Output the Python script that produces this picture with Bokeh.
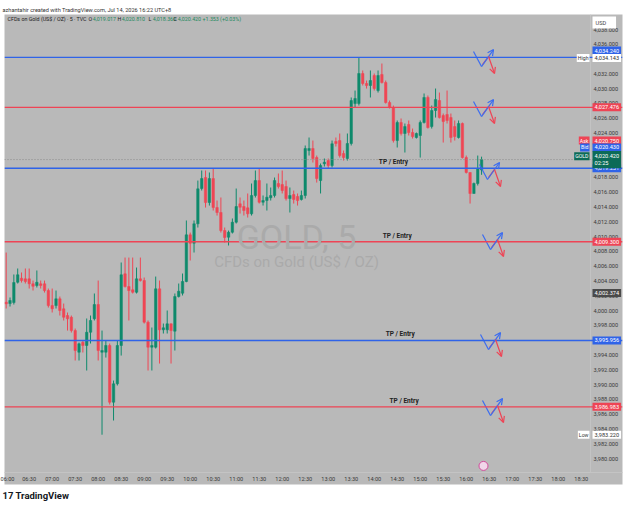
from bokeh.plotting import figure
from bokeh.models import (Label, Span, FixedTicker, NumeralTickFormatter, Range1d,
                          Arrow, OpenHead, ColumnDataSource, Title)
from bokeh.embed import file_html
from bokeh.resources import INLINE

# ---------------- data (5-minute candles, minutes after 06:00) ----------------
times = [5 * i for i in range(125)]
opens = [4001.13, 4000.95, 4001.09, 4003.83, 4004.37, 4004.29, 4004.29, 4003.62, 4003.39, 4003.62,
         4003.62, 4002.71, 4000.68, 4000.68, 4001.59, 4000.24, 3999.33, 3999.10, 3997.30, 3994.37,
         3995.72, 3995.28, 3997.07, 3998.89, 4000.82, 3994.37, 3994.37, 3995.28, 3987.61, 3990.10,
         3995.28, 4004.97, 4003.25, 4002.81, 4002.48, 4004.29, 4004.06, 3998.43, 3995.05, 3995.05,
         4002.94, 3997.40, 3997.40, 3998.21, 3997.21, 4001.90, 4002.35, 4003.93, 4010.24, 4009.11,
         4011.73, 4016.50, 4017.99, 4014.61, 4017.85, 4013.93, 4013.26, 4010.82, 4009.92, 4010.59,
         4011.95, 4014.43, 4014.07, 4013.89, 4013.08, 4015.56, 4017.58, 4014.65, 4014.88, 4015.25,
         4015.56, 4017.18, 4017.04, 4016.77, 4015.15, 4015.69, 4015.42, 4015.02, 4015.56, 4021.64,
         4021.91, 4020.69, 4017.58, 4019.84, 4020.29, 4019.61, 4022.86, 4022.99, 4021.23, 4020.56,
         4022.59, 4027.99, 4027.99, 4032.05, 4030.70, 4030.43, 4031.78, 4029.75, 4031.92, 4030.83,
         4028.13, 4027.45, 4022.99, 4025.43, 4023.94, 4025.16, 4024.07, 4023.40, 4023.67, 4025.43,
         4028.81, 4024.88, 4027.05, 4028.40, 4026.37, 4026.51, 4026.10, 4024.88, 4023.40, 4025.29,
         4020.69, 4018.67, 4015.83, 4017.18, 4019.017]
highs = [4007.85, 4001.77, 4004.88, 4005.69, 4005.15, 4005.69, 4005.69, 4004.06, 4005.42, 4004.06,
         4004.06, 4002.98, 4002.98, 4002.71, 4001.90, 4000.95, 3999.74, 3999.33, 3997.57, 3995.68,
         3995.95, 3998.93, 3999.33, 4002.31, 4004.06, 3997.30, 3995.95, 3995.55, 3990.54, 3995.95,
         4006.50, 4007.17, 4007.17, 4007.17, 4005.82, 4007.17, 4004.47, 3998.66, 3997.71, 4004.60,
         4004.06, 3998.25, 4000.01, 3998.25, 4002.31, 4003.66, 4005.01, 4012.18, 4010.55, 4012.18,
         4017.58, 4018.94, 4018.94, 4018.67, 4019.21, 4014.88, 4015.29, 4011.23, 4010.82, 4012.45,
         4016.50, 4015.29, 4014.88, 4015.83, 4017.18, 4018.94, 4019.21, 4015.56, 4017.18, 4016.64,
         4017.99, 4018.53, 4018.94, 4017.58, 4016.64, 4016.23, 4015.83, 4016.23, 4022.32, 4023.40,
         4022.99, 4020.96, 4019.88, 4020.56, 4020.56, 4022.99, 4023.40, 4023.94, 4021.64, 4023.94,
         4028.81, 4029.75, 4034.143, 4032.46, 4031.10, 4032.46, 4032.05, 4032.46, 4033.40, 4031.10,
         4028.40, 4027.72, 4025.70, 4025.97, 4025.29, 4025.70, 4024.61, 4024.07, 4025.70, 4029.35,
         4029.08, 4027.72, 4030.02, 4029.48, 4026.64, 4029.75, 4026.64, 4025.70, 4025.70, 4025.43,
         4020.96, 4018.67, 4017.31, 4020.96, 4020.81]
lows = [4000.28, 4000.55, 4000.82, 4003.66, 4003.79, 4003.66, 4002.98, 4002.71, 4003.12, 4002.98,
        4002.44, 4000.41, 3999.74, 4000.28, 3999.33, 3998.66, 3997.30, 3997.03, 3993.25, 3993.25,
        3994.33, 3991.90, 3995.55, 3998.66, 3993.25, 3983.22, 3993.65, 3987.30, 3985.14, 3989.87,
        3993.92, 4003.12, 3998.66, 4002.31, 4002.31, 4003.93, 3998.25, 3991.90, 3991.90, 3994.87,
        3992.84, 3996.90, 3996.90, 3992.84, 3994.60, 4001.77, 4002.04, 4003.83, 4006.77, 4007.85,
        4011.23, 4016.23, 4013.93, 4014.20, 4013.53, 4012.85, 4010.55, 4009.20, 4008.80, 4010.42,
        4011.77, 4013.12, 4012.85, 4012.58, 4012.85, 4015.29, 4014.47, 4014.20, 4013.53, 4014.88,
        4015.29, 4016.50, 4015.83, 4014.88, 4013.26, 4014.47, 4014.20, 4014.88, 4015.15, 4020.96,
        4020.02, 4017.31, 4015.83, 4019.48, 4019.21, 4019.34, 4022.18, 4020.69, 4020.29, 4020.29,
        4022.32, 4027.45, 4027.72, 4030.43, 4030.02, 4028.81, 4029.75, 4029.48, 4030.70, 4027.99,
        4027.32, 4022.72, 4022.05, 4023.67, 4021.37, 4023.67, 4023.26, 4023.26, 4020.69, 4025.29,
        4024.61, 4024.61, 4026.10, 4025.97, 4022.72, 4025.29, 4022.72, 4022.99, 4023.26, 4020.56,
        4018.53, 4014.47, 4015.83, 4016.91, 4018.36]
closes = [4000.91, 4001.36, 4003.79, 4004.84, 4004.06, 4003.93, 4003.62, 4003.29, 4003.83, 4003.39,
          4002.71, 4000.68, 4000.24, 4001.59, 4000.01, 3999.10, 3998.89, 3997.30, 3994.60, 3995.51,
          3995.28, 3997.07, 3998.66, 4000.82, 3994.60, 3994.60, 3995.28, 3987.61, 3990.10, 3995.28,
          4004.84, 4003.25, 4002.71, 4002.48, 4004.29, 4004.06, 3998.43, 3995.05, 3995.28, 4002.94,
          3997.40, 3997.67, 3998.21, 3997.30, 4001.90, 4002.62, 4003.93, 4010.24, 4009.11, 4011.73,
          4016.46, 4017.85, 4014.61, 4017.85, 4013.93, 4013.26, 4010.82, 4009.88, 4010.59, 4011.95,
          4014.07, 4013.97, 4013.53, 4013.08, 4015.56, 4017.58, 4014.65, 4014.88, 4015.33, 4015.56,
          4017.58, 4016.77, 4016.23, 4015.15, 4015.56, 4015.02, 4014.88, 4015.56, 4021.91, 4021.91,
          4020.56, 4017.85, 4019.61, 4020.06, 4019.61, 4022.55, 4022.59, 4020.96, 4020.69, 4022.59,
          4028.40, 4028.67, 4032.05, 4030.70, 4030.43, 4031.10, 4030.02, 4031.78, 4030.83, 4028.13,
          4027.45, 4022.99, 4025.43, 4023.94, 4024.88, 4024.07, 4023.53, 4023.94, 4025.43, 4028.81,
          4024.75, 4027.05, 4028.54, 4026.10, 4025.56, 4025.70, 4023.40, 4023.53, 4025.29, 4020.69,
          4018.67, 4015.83, 4017.18, 4019.21, 4020.420]

# horizontal levels drawn on the chart
level_prices = [4034.240, 4027.476, 4019.251, 4009.300, 3995.956, 3986.983]
level_colors = ["#2f63e8", "#ee4455", "#2f63e8", "#ee4455", "#2f63e8", "#ee4455"]
level_texts = ["4,034.240", "4,027.476", "4,019.251", "4,009.300", "3,995.956", "3,986.983"]

tick_minutes = [30 * k for k in range(26)]
tick_labels = ["06:00", "06:30", "07:00", "07:30", "08:00", "08:30", "09:00", "09:30", "10:00",
               "10:30", "11:00", "11:30", "12:00", "12:30", "13:00", "13:30", "14:00", "14:30",
               "15:00", "15:30", "16:00", "16:30", "17:00", "17:30", "18:00", "18:30"]
price_ticks = list(range(3980, 4040, 2))

last_price = 4020.420
high_price = 4034.143
low_price = 3983.220

UP = "#0e8a6c"
DOWN = "#ef4654"
BG = "#b9b9b9"
FONT = "Roboto"
SCALE_EDGE = 762.1   # time value where the price scale column starts

# ---------------- figure ----------------
p = figure(width=625, height=510, x_range=Range1d(-2.2, 803.8), y_range=Range1d(3978.11, 4040.03),
           output_backend="svg", toolbar_location=None, y_axis_location="right",
           min_border_left=4, min_border_right=3, min_border_top=14, min_border_bottom=38,
           background_fill_color=BG, border_fill_color="white", outline_line_color=None)
p.grid.visible = False

p.title.text = "azhantahir created with TradingView.com, Jul 14, 2026 16:22 UTC+8"
p.title.text_font = FONT
p.title.text_font_size = "5.6px"
p.title.text_font_style = "normal"
p.title.text_color = "#333333"
p.title.align = "left"
p.title.standoff = 4
p.title.offset = -2

p.yaxis.ticker = FixedTicker(ticks=price_ticks)
p.yaxis.formatter = NumeralTickFormatter(format="0,0.000")
p.xaxis.ticker = FixedTicker(ticks=tick_minutes)
p.xaxis.major_label_overrides = {t: s for t, s in zip(tick_minutes, tick_labels)}
for ax in (p.xaxis, p.yaxis):
    ax.major_tick_line_color = None
    ax.minor_tick_line_color = None
    ax.major_tick_out = 0
    ax.major_tick_in = 0
    ax.major_label_text_font = FONT
    ax.major_label_text_font_size = "5.6px"
    ax.major_label_text_color = "#3a3a3a"
    ax.background_fill_color = BG
p.xaxis.axis_line_color = "#c4c4c4"
p.xaxis.major_label_standoff = 3
p.yaxis.axis_line_color = None
p.yaxis.major_label_standoff = -29

# separator between chart and price scale
p.add_layout(Span(location=SCALE_EDGE, dimension="height", line_color="#c4c4c4", line_width=1))

# ---------------- candles ----------------
src = ColumnDataSource(dict(
    t=times, o=opens, h=highs, l=lows, c=closes,
    top=[max(a, b) for a, b in zip(opens, closes)],
    bot=[min(a, b) for a, b in zip(opens, closes)],
    col=[UP if c >= o else DOWN for o, c in zip(opens, closes)],
))
p.segment(x0="t", y0="h", x1="t", y1="l", color="col", line_width=1, source=src)
p.vbar(x="t", width=3.2, top="top", bottom="bot", fill_color="col", line_color="col",
       line_width=0.5, source=src)

# ---------------- levels ----------------
for pr, colr in zip(level_prices, level_colors):
    p.add_layout(Span(location=pr, dimension="width", line_color=colr, line_width=1.4))
p.add_layout(Span(location=last_price, dimension="width", line_color="#8c8c8c",
                  line_width=1, line_dash="1 2"))

# TP / Entry captions
tp_positions = [(505, 4019.251), (510, 4009.300), (514, 3995.956), (519, 3986.983)]
for tx, ty in tp_positions:
    p.add_layout(Label(x=tx, y=ty, text="TP / Entry", text_font=FONT, text_font_size="6.5px",
                       text_font_style="bold", text_color="#222222", text_align="center",
                       text_baseline="bottom", y_offset=2))

# zig-zag arrows (drawings): anchor = start of the blue stroke
anchors = [(609.5, 4034.21), (609.5, 4027.45), (617.3, 4018.94), (621.2, 4009.47),
           (618.6, 3995.95), (621.2, 3987.03)]
blue_shape = [(0.0, 0.81), (10.4, -1.22), (26.1, 1.08)]
red_shape = [(11.7, -0.95), (19.6, 0.14), (27.4, -2.16)]
for ax_, ay_ in anchors:
    for shape, colr in ((blue_shape, "#3b6cf0"), (red_shape, "#ee4455")):
        xs = [ax_ + d[0] for d in shape]
        ys = [ay_ + d[1] for d in shape]
        p.line(xs[:2], ys[:2], line_color=colr, line_width=1.2)
        p.add_layout(Arrow(end=OpenHead(size=6, line_color=colr, line_width=1.2),
                           x_start=xs[1], y_start=ys[1], x_end=xs[2], y_end=ys[2],
                           line_color=colr, line_width=1.2))

# event marker near time axis
p.scatter([622.5], [3979.0], size=9, fill_color="#f1d6ea", line_color="#d24c9c", line_width=1)

# ---------------- watermark ----------------
p.add_layout(Label(x=292, y=236, x_units="screen", y_units="screen", text="GOLD, 5",
                   text_font=FONT, text_font_size="34px", text_color="#aaaaaa",
                   text_align="center", text_baseline="middle"))
p.add_layout(Label(x=292, y=211, x_units="screen", y_units="screen", text="CFDs on Gold (US$ / OZ)",
                   text_font=FONT, text_font_size="15px", text_color="#aaaaaa",
                   text_align="center", text_baseline="middle"))

# ---------------- legend line ----------------
LEG = "5.3px"
p.add_layout(Label(x=3, y=454, x_units="screen", y_units="screen",
                   text="CFDs on Gold (US$ / OZ) · 5 · TVC", text_font=FONT,
                   text_font_size=LEG, text_color="#222222", text_baseline="middle"))
ohlc = [("O", "4,019.017", 84), ("H", "4,020.810", 113), ("L", "4,018.360", 144),
        ("C", "4,020.420", 169)]
for letter, val, sx in ohlc:
    p.add_layout(Label(x=sx, y=454, x_units="screen", y_units="screen", text=letter,
                       text_font=FONT, text_font_size=LEG, text_color="#222222",
                       text_baseline="middle"))
    p.add_layout(Label(x=sx + 4.3, y=454, x_units="screen", y_units="screen", text=val,
                       text_font=FONT, text_font_size=LEG, text_color="#1f8a5f",
                       text_baseline="middle"))
p.add_layout(Label(x=198, y=454, x_units="screen", y_units="screen", text="+1.353 (+0.03%)",
                   text_font=FONT, text_font_size=LEG, text_color="#1f8a5f",
                   text_baseline="middle"))

# ---------------- price scale boxes ----------------
AXX = 588  # screen x of price boxes (relative to frame)


def price_box(y, text, bg, fg="white", border=None):
    p.add_layout(Label(x=AXX, y=y, x_units="screen", text=text, text_font=FONT,
                       text_font_size="5.6px", text_color=fg, text_baseline="middle",
                       background_fill_color=bg, border_line_color=border, padding=2))


def side_tag(y, text, bg, fg="white"):
    p.add_layout(Label(x=585, y=y, x_units="screen", text=text, text_font=FONT,
                       text_font_size="5.2px", text_color=fg, text_align="right",
                       text_baseline="middle", background_fill_color=bg, padding=1))


price_box(4035.16, level_texts[0], level_colors[0])
price_box(high_price, "4,034.143", "white", fg="#333333")
side_tag(high_price, "High", "white", fg="#333333")
for pr, txt, colr in zip(level_prices[1:], level_texts[1:], level_colors[1:]):
    price_box(pr, txt, colr)
price_box(4022.99, "4,020.750", "#ee4455")
side_tag(4022.99, "Ask", "#ee4455")
price_box(4022.05, "4,020.430", "#2f63e8")
side_tag(4022.05, "Bid", "#2f63e8")
price_box(last_price, "4,020.420\n02:25", "#0c6b57")
side_tag(last_price + 0.45, "GOLD", "#0c6b57")
price_box(4002.374, "4,002.374", "#4a4a4a")
price_box(low_price, "3,983.220", "white", fg="#333333")
side_tag(low_price, "Low", "white", fg="#333333")
p.add_layout(Label(x=AXX, y=450, x_units="screen", y_units="screen", text="USD     ",
                   text_font=FONT, text_font_size="5.6px", text_color="#444444",
                   text_baseline="middle", background_fill_color="white", padding=3))

# ---------------- footer logo ----------------
footer = Title(text="17 TradingView", text_font=FONT, text_font_size="9.5px",
               text_font_style="bold", text_color="#131722", align="left", standoff=7, offset=-2)
p.add_layout(footer, "below")

open("out.html", "w").write(file_html(p, INLINE))
